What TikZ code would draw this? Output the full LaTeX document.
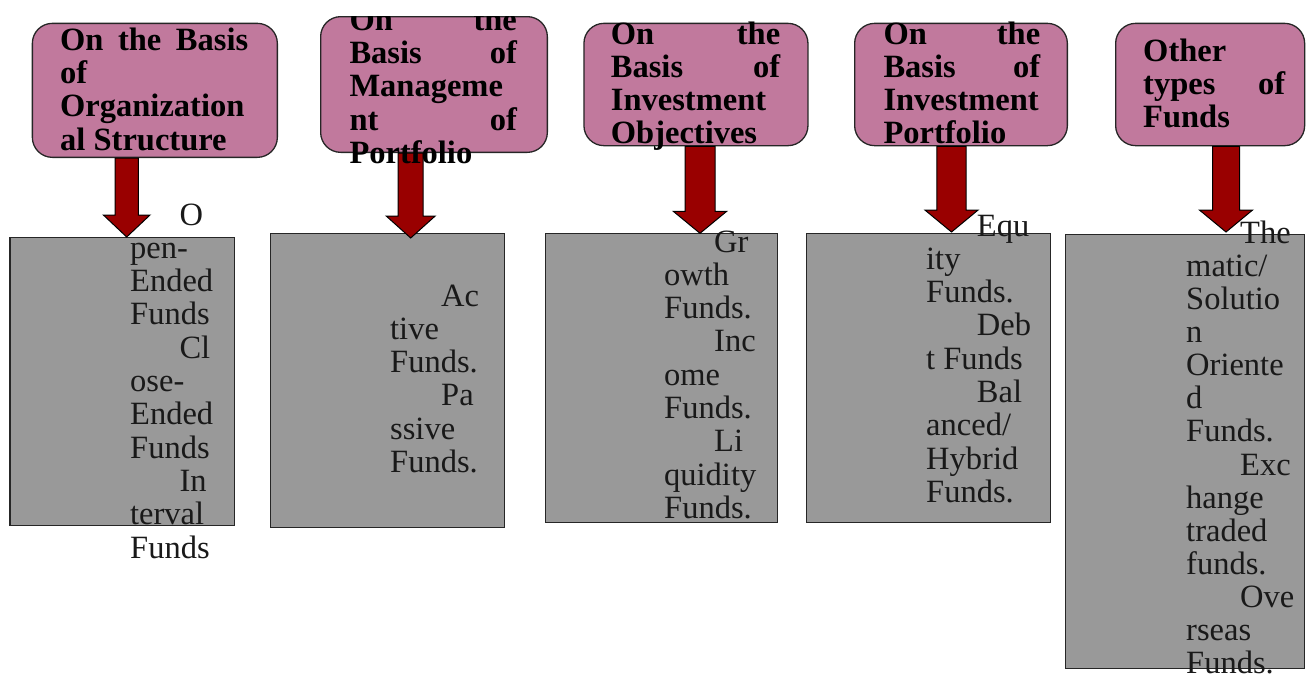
\documentclass[tikz,border=0pt]{standalone}
\usepackage{fontspec}
\setmainfont{Liberation Serif}
\usetikzlibrary{calc}
\definecolor{pinkbox}{RGB}{193,121,157}
\definecolor{graybox}{RGB}{153,153,153}
\definecolor{arrred}{RGB}{153,0,0}
\newlength\indw
\newcommand\ind{\hspace*{\indw}}
\newcommand\blockarrow[4]{%
  \draw[arr] let \p1=(#1), \p2=(#2) in
    (\x1-#3pt,\y1) -- (\x1-#3pt,\y2+22pt) -- (\x2-#4pt,\y2+22pt) -- (\x2,\y2)
    -- (\x2+#4pt,\y2+22pt) -- (\x1+#3pt,\y2+22pt) -- (\x1+#3pt,\y1) -- cycle;}
\begin{document}
\begin{tikzpicture}[x=1pt,y=-1pt,
  hbox/.style={draw=black!85, line width=1.3pt, fill=pinkbox, rounded corners=20pt, inner sep=0pt, anchor=north west},
  gbox/.style={draw=black!85, line width=1.3pt, fill=graybox, inner sep=0pt, anchor=north west},
  arr/.style={draw=black, line width=1pt, fill=arrred},
  ht/.style={font=\fontsize{32.5}{33}\selectfont\bfseries, inner sep=0pt, anchor=base west, text=black},
  bt/.style={font=\fontsize{32.5}{33}\selectfont, inner sep=0pt, anchor=base west, text=black!90},
]
\useasboundingbox (0,0) rectangle (1306,681);
\clip (0,0) rectangle (1306,681);

% header boxes
\node[hbox, minimum width=245pt, minimum height=134pt] (h1) at (31.7,22.7) {};
\node[hbox, minimum width=226.7pt, minimum height=135.7pt] (h2) at (320,16) {};
\node[hbox, minimum width=224pt, minimum height=122.3pt] (h3) at (583.3,22.7) {};
\node[hbox, minimum width=212.7pt, minimum height=122.3pt] (h4) at (854,22.7) {};
\node[hbox, minimum width=189pt, minimum height=122.3pt] (h5) at (1115,22.7) {};

% grey boxes
\node[gbox, minimum width=224.7pt, minimum height=288.3pt] (g1) at (9.3,236.7) {};
\node[gbox, minimum width=234pt, minimum height=294pt] (g2) at (270,233) {};
\node[gbox, minimum width=232pt, minimum height=289pt] (g3) at (545,233) {};
\node[gbox, minimum width=244pt, minimum height=289pt] (g4) at (806,233) {};
\node[gbox, minimum width=239pt, minimum height=434pt] (g5) at (1065,234) {};

% arrow tips
\coordinate (t1) at (126.7,237);
\coordinate (t2) at (410.7,238);
\coordinate (t3) at (700,233.3);
\coordinate (t4) at (951.5,232);
\coordinate (t5) at (1226,232);
\blockarrow{h1.south -| t1}{t1}{11.7}{23.3}
\blockarrow{h2.south -| t2}{t2}{12.5}{24.5}
\blockarrow{h3.south -| t3}{t3}{15}{26.7}
\blockarrow{h4.south -| t4}{t4}{14.6}{26.6}
\blockarrow{h5.south -| t5}{t5}{13.5}{26.6}

% header texts
\node[ht] (h1-0) at (60,50) {\makebox[188pt][s]{On the Basis}};
\node[ht] (h1-1) at (60,83.3) {of};
\node[ht] (h1-2) at (60,116.6) {Organization};
\node[ht] (h1-3) at (60,150) {al Structure};

\begin{scope}
\clip (300,16) rectangle (570,200);
\node[ht] (h2-0) at (349.3,30) {\makebox[167.4pt][s]{On the}};
\node[ht] (h2-1) at (349.3,63.3) {\makebox[167.4pt][s]{Basis of}};
\node[ht] (h2-2) at (349.3,96.6) {Manageme};
\node[ht] (h2-3) at (349.3,130) {\makebox[167.4pt][s]{nt of}};
\node[ht] (h2-4) at (349.3,163) {Portfolio};
\end{scope}

\node[ht] (h3-0) at (610.7,44) {\makebox[169.3pt][s]{On the}};
\node[ht] (h3-1) at (610.7,77) {\makebox[169.3pt][s]{Basis of}};
\node[ht] (h3-2) at (610.7,110) {Investment};
\node[ht] (h3-3) at (610.7,143) {Objectives};

\node[ht] (h4-0) at (883.3,44) {\makebox[156.7pt][s]{On the}};
\node[ht] (h4-1) at (883.3,77) {\makebox[156.7pt][s]{Basis of}};
\node[ht] (h4-2) at (883.3,110) {Investment};
\node[ht] (h4-3) at (883.3,143) {Portfolio};

\node[ht] (h5-0) at (1143,61) {Other};
\node[ht] (h5-1) at (1143,94) {\makebox[142pt][s]{types of}};
\node[ht] (h5-2) at (1143,127) {Funds};

% body texts
\setlength\indw{49.3pt}
\foreach \t [count=\i from 0] in {{\ind O},pen-,Ended,Funds,{\ind Cl},ose-,Ended,Funds,{\ind In},terval,Funds}
  \node[bt] (b1-\i) at (130,225+33.3*\i) {\t};
\setlength\indw{51pt}
\foreach \t [count=\i from 0] in {{\ind Ac},tive,Funds.,{\ind Pa},ssive,Funds.}
  \node[bt] (b2-\i) at (390,306+33.3*\i) {\t};
\setlength\indw{50pt}
\foreach \t [count=\i from 0] in {{\ind Gr},owth,Funds.,{\ind Inc},ome,Funds.,{\ind Li},quidity,Funds.}
  \node[bt] (b3-\i) at (664,252+33.3*\i) {\t};
\setlength\indw{50.7pt}
\foreach \t [count=\i from 0] in {{\ind Equ},ity,Funds.,{\ind Deb},t Funds,{\ind Bal},anced/,Hybrid,Funds.}
  \node[bt] (b4-\i) at (926,236+33.3*\i) {\t};
\setlength\indw{54pt}
\foreach \t [count=\i from 0] in {{\ind The},matic/,Solutio,n,Oriente,d,Funds.,{\ind Exc},hange,traded,funds.,{\ind Ove},rseas,Funds.}
  \node[bt] (b5-\i) at (1186,243+33.15*\i) {\t};
\end{tikzpicture}
\end{document}
